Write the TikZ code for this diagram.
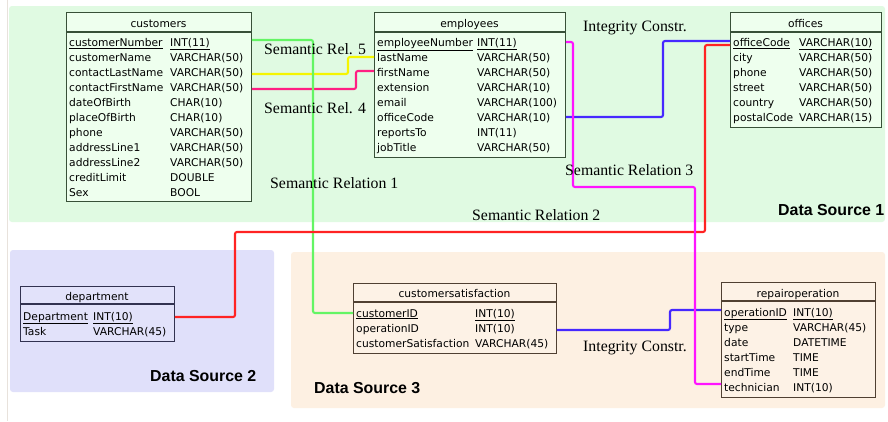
\documentclass[tikz,border=0pt]{standalone}
\usepackage{fontspec}
\setmainfont{Liberation Serif}
\newfontfamily\tabfont{DejaVu Sans}
\newfontfamily\dsfont{Liberation Sans}

\definecolor{dsonebg}{RGB}{224,250,226}
\definecolor{dstwobg}{RGB}{224,224,250}
\definecolor{dsthreebg}{RGB}{253,240,226}
\definecolor{tgreenfill}{RGB}{238,255,238}
\definecolor{tgreenline}{RGB}{56,80,56}
\definecolor{tbluefill}{RGB}{226,226,250}
\definecolor{tblueline}{RGB}{50,50,80}
\definecolor{torangefill}{RGB}{253,242,230}
\definecolor{torangeline}{RGB}{80,64,50}
\definecolor{cgreen}{RGB}{100,245,100}
\definecolor{cyellow}{RGB}{245,245,0}
\definecolor{cpink}{RGB}{255,30,130}
\definecolor{cblue}{RGB}{70,40,255}
\definecolor{cred}{RGB}{255,35,35}
\definecolor{cmagenta}{RGB}{255,20,255}
\definecolor{pageline}{RGB}{232,226,220}

% one row of a table: name, x of column 1, x of column 2, baseline, field, type
\newcommand\dbrow[6]{%
  \node[cell] (#1) at (#2,#4) {#5};
  \node[cell] (#1-type) at (#3,#4) {#6};}

\tikzset{
  region/.style={fill=#1, draw=none, rounded corners=3pt},
  tablebox/.style 2 args={draw=#1, fill=#2, line width=0.9pt, inner sep=0pt,
    anchor=north west},
  sepline/.style={line width=1.1pt},
  cell/.style={font=\tabfont\fontsize{10.7}{12}\selectfont, inner sep=0pt,
    anchor=base west},
  caption/.style={cell, anchor=base},
  rellabel/.style={font=\fontsize{15.8}{17}\selectfont, inner sep=0pt,
    anchor=base west},
  dslabel/.style={font=\dsfont\bfseries\fontsize{15.9}{17}\selectfont,
    inner sep=0pt, anchor=base west},
  link/.style={draw=#1, line width=2.1pt, rounded corners=2pt}
}

\begin{document}
\begin{tikzpicture}[x=1pt, y=-1pt]
\useasboundingbox[fill=white] (0,0) rectangle (888,421);

% page edge and the three data source areas
\draw[pageline, line width=1pt] (7,0) -- (7,421);
\fill[region=dsonebg] (9,6) rectangle (885,222);
\fill[region=dstwobg] (10,250) rectangle (274,392);
\fill[region=dsthreebg] (291,252) rectangle (885,408);

% ---------- Data Source 1 ----------
\node[tablebox={tgreenline}{tgreenfill}, minimum width=185pt, minimum height=189pt]
  (customers) at (66,12) {};
\draw[tgreenline, sepline] ([yshift=-20pt]customers.north west) -- ([yshift=-20pt]customers.north east);
\node[caption] (customers-title) at (158.5,27) {customers};
\dbrow{cNum}{69}{170}{46.5}{\underline{customerNumber}}{\underline{INT(11)}}
\dbrow{cName}{69}{170}{61.5}{customerName}{VARCHAR(50)}
\dbrow{cLast}{69}{170}{76.5}{contactLastName}{VARCHAR(50)}
\dbrow{cFirst}{69}{170}{91.5}{contactFirstName}{VARCHAR(50)}
\dbrow{cBirth}{69}{170}{106.5}{dateOfBirth}{CHAR(10)}
\dbrow{cPlace}{69}{170}{121.5}{placeOfBirth}{CHAR(10)}
\dbrow{cPhone}{69}{170}{136.5}{phone}{VARCHAR(50)}
\dbrow{cAddrA}{69}{170}{151.5}{addressLine1}{VARCHAR(50)}
\dbrow{cAddrB}{69}{170}{166.5}{addressLine2}{VARCHAR(50)}
\dbrow{cCredit}{69}{170}{181.5}{creditLimit}{DOUBLE}
\dbrow{cSex}{69}{170}{196.5}{Sex}{BOOL}

\node[tablebox={tgreenline}{tgreenfill}, minimum width=191pt, minimum height=145pt]
  (employees) at (374,12) {};
\draw[tgreenline, sepline] ([yshift=-20pt]employees.north west) -- ([yshift=-20pt]employees.north east);
\node[caption] (employees-title) at (469.5,27) {employees};
\dbrow{eNum}{377}{477}{46.5}{\underline{employeeNumber}}{\underline{INT(11)}}
\dbrow{eLast}{377}{477}{61.5}{lastName}{VARCHAR(50)}
\dbrow{eFirst}{377}{477}{76.5}{firstName}{VARCHAR(50)}
\dbrow{eExt}{377}{477}{91.5}{extension}{VARCHAR(10)}
\dbrow{eMail}{377}{477}{106.5}{email}{VARCHAR(100)}
\dbrow{eOffice}{377}{477}{121.5}{officeCode}{VARCHAR(10)}
\dbrow{eReports}{377}{477}{136.5}{reportsTo}{INT(11)}
\dbrow{eJob}{377}{477}{151.5}{jobTitle}{VARCHAR(50)}

\node[tablebox={tgreenline}{tgreenfill}, minimum width=151pt, minimum height=115pt]
  (offices) at (730,12) {};
\draw[tgreenline, sepline] ([yshift=-20pt]offices.north west) -- ([yshift=-20pt]offices.north east);
\node[caption] (offices-title) at (805.5,27) {offices};
\dbrow{oCode}{733}{799}{46.5}{\underline{officeCode}}{\underline{VARCHAR(10)}}
\dbrow{oCity}{733}{799}{61.5}{city}{VARCHAR(50)}
\dbrow{oPhone}{733}{799}{76.5}{phone}{VARCHAR(50)}
\dbrow{oStreet}{733}{799}{91.5}{street}{VARCHAR(50)}
\dbrow{oCountry}{733}{799}{106.5}{country}{VARCHAR(50)}
\dbrow{oPostal}{733}{799}{121.5}{postalCode}{VARCHAR(15)}

% ---------- Data Source 2 ----------
\node[tablebox={tblueline}{tbluefill}, minimum width=154pt, minimum height=55pt]
  (department) at (20,286) {};
\draw[tblueline, sepline] ([yshift=-18pt]department.north west) -- ([yshift=-18pt]department.north east);
\node[caption] (department-title) at (97,300) {department};
\dbrow{dDept}{23}{93}{320}{\underline{Department}}{\underline{INT(10)}}
\dbrow{dTask}{23}{93}{335}{Task}{VARCHAR(45)}

% ---------- Data Source 3 ----------
\node[tablebox={torangeline}{torangefill}, minimum width=203pt, minimum height=70pt]
  (csat) at (353,283) {};
\draw[torangeline, sepline] ([yshift=-19pt]csat.north west) -- ([yshift=-19pt]csat.north east);
\node[caption] (csat-title) at (454.5,297) {customersatisfaction};
\dbrow{sCust}{356}{475}{317}{\underline{customerID}}{\underline{INT(10)}}
\dbrow{sOp}{356}{475}{332}{operationID}{INT(10)}
\dbrow{sSat}{356}{475}{347}{customerSatisfaction}{VARCHAR(45)}

\node[tablebox={torangeline}{torangefill}, minimum width=154pt, minimum height=115pt]
  (repair) at (721,282) {};
\draw[torangeline, sepline] ([yshift=-19pt]repair.north west) -- ([yshift=-19pt]repair.north east);
\node[caption] (repair-title) at (798,297) {repairoperation};
\dbrow{rOp}{724}{793}{316}{\underline{operationID}}{\underline{INT(10)}}
\dbrow{rType}{724}{793}{331}{type}{VARCHAR(45)}
\dbrow{rDate}{724}{793}{346}{date}{DATETIME}
\dbrow{rStart}{724}{793}{361}{startTime}{TIME}
\dbrow{rEnd}{724}{793}{376}{endTime}{TIME}
\dbrow{rTech}{724}{793}{391}{technician}{INT(10)}

% ---------- relations ----------
\draw[link=cyellow] (customers.east |- 0,74) -| (348,57) -- (employees.west |- 0,57);
\draw[link=cpink] (customers.east |- 0,89) -| (356,71) -- (employees.west |- 0,71);
\draw[link=cgreen] (customers.east |- 0,40) -| (313,313) -- (csat.west |- 0,313);
\draw[link=cblue] (employees.east |- 0,117) -| (663,41) -- (offices.west |- 0,41);
\draw[link=cred] (offices.west |- 0,45) -| (705,232) -| (235,317) -- (department.east |- 0,317);
\draw[link=cblue] (csat.east |- 0,330) -| (670,310) -- (repair.west |- 0,310);
\draw[link=cmagenta] (employees.east |- 0,42) -| (573,187) -| (695,384) -- (repair.west |- 0,384);

% ---------- labels ----------
\node[rellabel] (lblRelFive) at (264,54) {Semantic Rel. 5};
\node[rellabel] (lblRelFour) at (264,113) {Semantic Rel. 4};
\node[rellabel] (lblRelOne) at (270,188) {Semantic Relation 1};
\node[rellabel] (lblRelTwo) at (472,220) {Semantic Relation 2};
\node[rellabel] (lblRelThree) at (565,175) {Semantic Relation 3};
\node[rellabel] (lblIntTop) at (583,31) {Integrity Constr.};
\node[rellabel] (lblIntBottom) at (583,351) {Integrity Constr.};

\node[dslabel] (dsOne) at (778,215) {Data Source 1};
\node[dslabel] (dsTwo) at (150,381) {Data Source 2};
\node[dslabel] (dsThree) at (314,393) {Data Source 3};
\end{tikzpicture}
\end{document}
